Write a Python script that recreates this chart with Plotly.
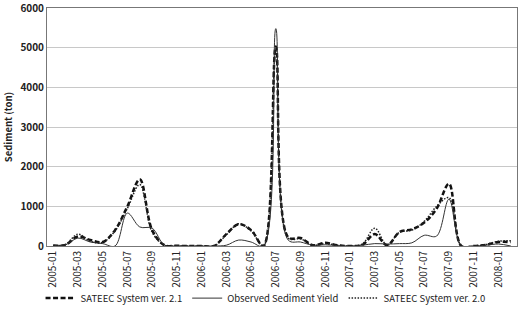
import plotly.graph_objects as go

months = ["2005-01","2005-02","2005-03","2005-04","2005-05","2005-06","2005-07","2005-08","2005-09","2005-10","2005-11","2005-12",
          "2006-01","2006-02","2006-03","2006-04","2006-05","2006-06","2006-07","2006-08","2006-09","2006-10","2006-11","2006-12",
          "2007-01","2007-02","2007-03","2007-04","2007-05","2007-06","2007-07","2007-08","2007-09","2007-10","2007-11","2007-12",
          "2008-01","2008-02"]
tick_labels = months[::2]
y_ticks = [0, 1000, 2000, 3000, 4000, 5000, 6000]

sateec21 = [10, 30, 240, 150, 100, 400, 1000, 1680, 400, 20, 5, 0,
            0, 0, 300, 550, 400, 0, 5030, 220, 200, 20, 80, 20,
            0, 30, 300, 20, 350, 420, 590, 940, 1570, 0, 0, 30,
            100, 100]
observed = [10, 30, 200, 100, 60, 0, 830, 480, 450, 20, 5, 0,
            0, 0, 20, 150, 100, 0, 5480, 150, 100, 20, 30, 10,
            0, 20, 60, 50, 60, 80, 270, 250, 1180, 0, 0, 20,
            50, 0]
sateec20 = [10, 40, 300, 120, 90, 380, 950, 1550, 350, 20, 5, 0,
            0, 0, 280, 560, 380, 0, 4950, 200, 180, 20, 60, 20,
            0, 50, 450, 20, 350, 400, 620, 1000, 1220, 0, 0, 40,
            120, 130]

FONT = "Noto Sans CJK KR, Noto Sans, sans-serif"

fig = go.Figure()
fig.add_trace(go.Scatter(x=months, y=sateec21, name="SATEEC System ver. 2.1", mode="lines",
                         line=dict(color="#111111", width=2.5, dash="5px,2.5px", shape="spline", smoothing=1)))
fig.add_trace(go.Scatter(x=months, y=observed, name="Observed Sediment Yield", mode="lines",
                         line=dict(color="#333333", width=1, shape="spline", smoothing=1)))
fig.add_trace(go.Scatter(x=months, y=sateec20, name="SATEEC System ver. 2.0", mode="lines",
                         line=dict(color="#222222", width=1.5, dash="1.5px,1.5px", shape="spline", smoothing=1)))

fig.update_layout(
    width=520, height=312,
    margin=dict(l=47, r=3, t=8, b=66, autoexpand=False),
    paper_bgcolor="white", plot_bgcolor="white",
    font=dict(family=FONT, color="#222222", size=9),
    showlegend=True,
    legend=dict(orientation="h", x=0.465, xanchor="center", y=-0.219, yanchor="middle",
                font=dict(size=9.5), itemwidth=30, tracegroupgap=0, bgcolor="rgba(0,0,0,0)"),
)
fig.update_xaxes(type="category", tickmode="array", tickvals=tick_labels, ticktext=tick_labels,
                 tickangle=-90, tickfont=dict(size=10), showgrid=False, automargin=False,
                 showline=True, linecolor="#777777", linewidth=1, mirror=True, ticks="", range=[-0.5, 37.5])
fig.update_yaxes(range=[0, 6000], tickmode="array", tickvals=y_ticks, ticktext=[str(v) for v in y_ticks],
                 ticklabeloverflow="allow", automargin=False,
                 showgrid=True, gridcolor="#c8c8c8", gridwidth=1,
                 tickfont=dict(size=10, family=FONT, weight="bold"),
                 title=dict(text="<b>Sediment (ton)</b>", font=dict(size=9.5), standoff=6),
                 showline=True, linecolor="#777777", linewidth=1, mirror=True, zeroline=False, ticks="")

fig.write_html("out.html")
